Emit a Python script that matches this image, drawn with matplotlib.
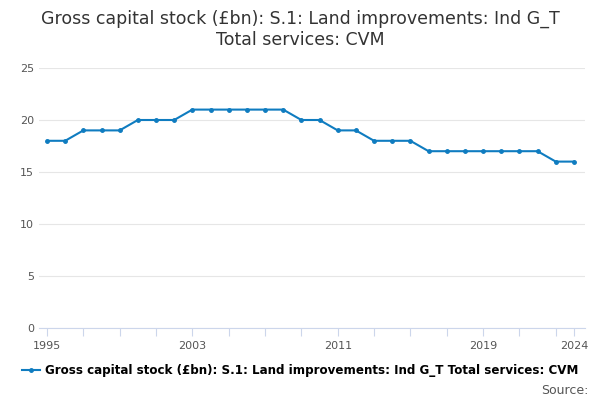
import matplotlib.pyplot as plt

years = list(range(1995, 2025))
values = [18, 18, 19, 19, 19, 20, 20, 20, 21, 21, 21, 21, 21, 21, 20, 20, 19, 19,
          18, 18, 18, 17, 17, 17, 17, 17, 17, 17, 16, 16]
labelled = [1995, 2003, 2011, 2019, 2024]
title = "Gross capital stock (£bn): S.1: Land improvements: Ind G_T\nTotal services: CVM"
series_name = "Gross capital stock (£bn): S.1: Land improvements: Ind G_T Total services: CVM"

fig = plt.figure(figsize=(6, 4), dpi=100)
ax = fig.add_axes([0.065, 0.18, 0.91, 0.65])
ax.plot(years, values, color="#0f7cc0", lw=1.5, marker="o", ms=2.5, label=series_name)

ax.set_ylim(0, 25)
ax.set_yticks([0, 5, 10, 15, 20, 25])
ax.set_xlim(1994.56, 2024.61)
ticks = list(range(1995, 2024, 2)) + [2024]
ax.set_xticks(ticks)
ax.set_xticklabels([str(t) if t in labelled else "" for t in ticks])
ax.grid(axis="y", color="#e6e6e6", lw=0.8)
for s in ["top", "right", "left"]:
    ax.spines[s].set_visible(False)
ax.spines["bottom"].set_color("#ccd6eb")
ax.tick_params(axis="y", length=0, labelsize=8, colors="#555555")
ax.tick_params(axis="x", length=6, color="#ccd6eb", labelsize=8, colors="#555555")

fig.suptitle(title, fontsize=12.5, y=0.975, color="#333333")
fig.legend(loc="lower center", bbox_to_anchor=(0.5, 0.03), frameon=False,
           prop={"weight": "bold", "size": 8.6}, handlelength=1.5, handletextpad=0.4)
fig.text(0.98, 0.015, "Source:", ha="right", fontsize=9, color="#555555")
fig.savefig("out.png")
